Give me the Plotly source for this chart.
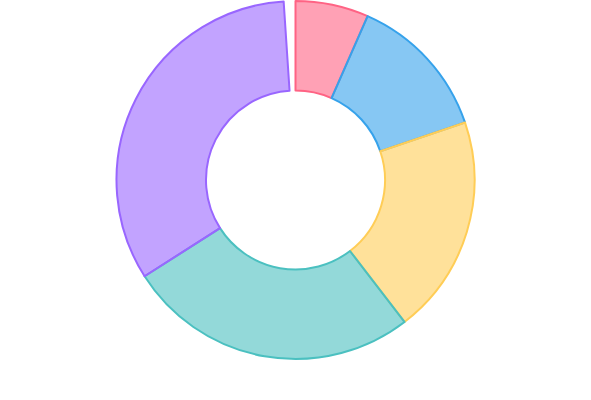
import plotly.graph_objects as go

labels = ["Red", "Blue", "Yellow", "Green", "Purple", ""]
values = [10, 20, 30, 40, 50, 1.6]
fill_colors = ["rgba(255,99,132,0.6)", "rgba(54,162,235,0.6)", "rgba(255,205,86,0.6)",
               "rgba(75,192,192,0.6)", "rgba(153,102,255,0.6)", "rgba(0,0,0,0)"]
line_colors = ["rgb(255,99,132)", "rgb(54,162,235)", "rgb(255,205,86)",
               "rgb(75,192,192)", "rgb(153,102,255)", "rgba(0,0,0,0)"]
line_widths = [2, 2, 2, 2, 2, 0]

fig = go.Figure(go.Pie(
    labels=labels,
    values=values,
    hole=0.5,
    sort=False,
    direction="clockwise",
    rotation=0,
    textinfo="none",
    hoverinfo="label+value",
    marker=dict(colors=fill_colors, line=dict(color=line_colors, width=line_widths)),
    domain=dict(x=[0, 1], y=[0.1025, 0.9975]),
    showlegend=False,
))
fig.update_layout(
    width=591, height=400,
    margin=dict(l=0, r=0, t=0, b=0),
    paper_bgcolor="white",
    plot_bgcolor="white",
)
fig.write_html("out.html", config={"displayModeBar": False},
               post_script="document.body.style.margin='0';")
